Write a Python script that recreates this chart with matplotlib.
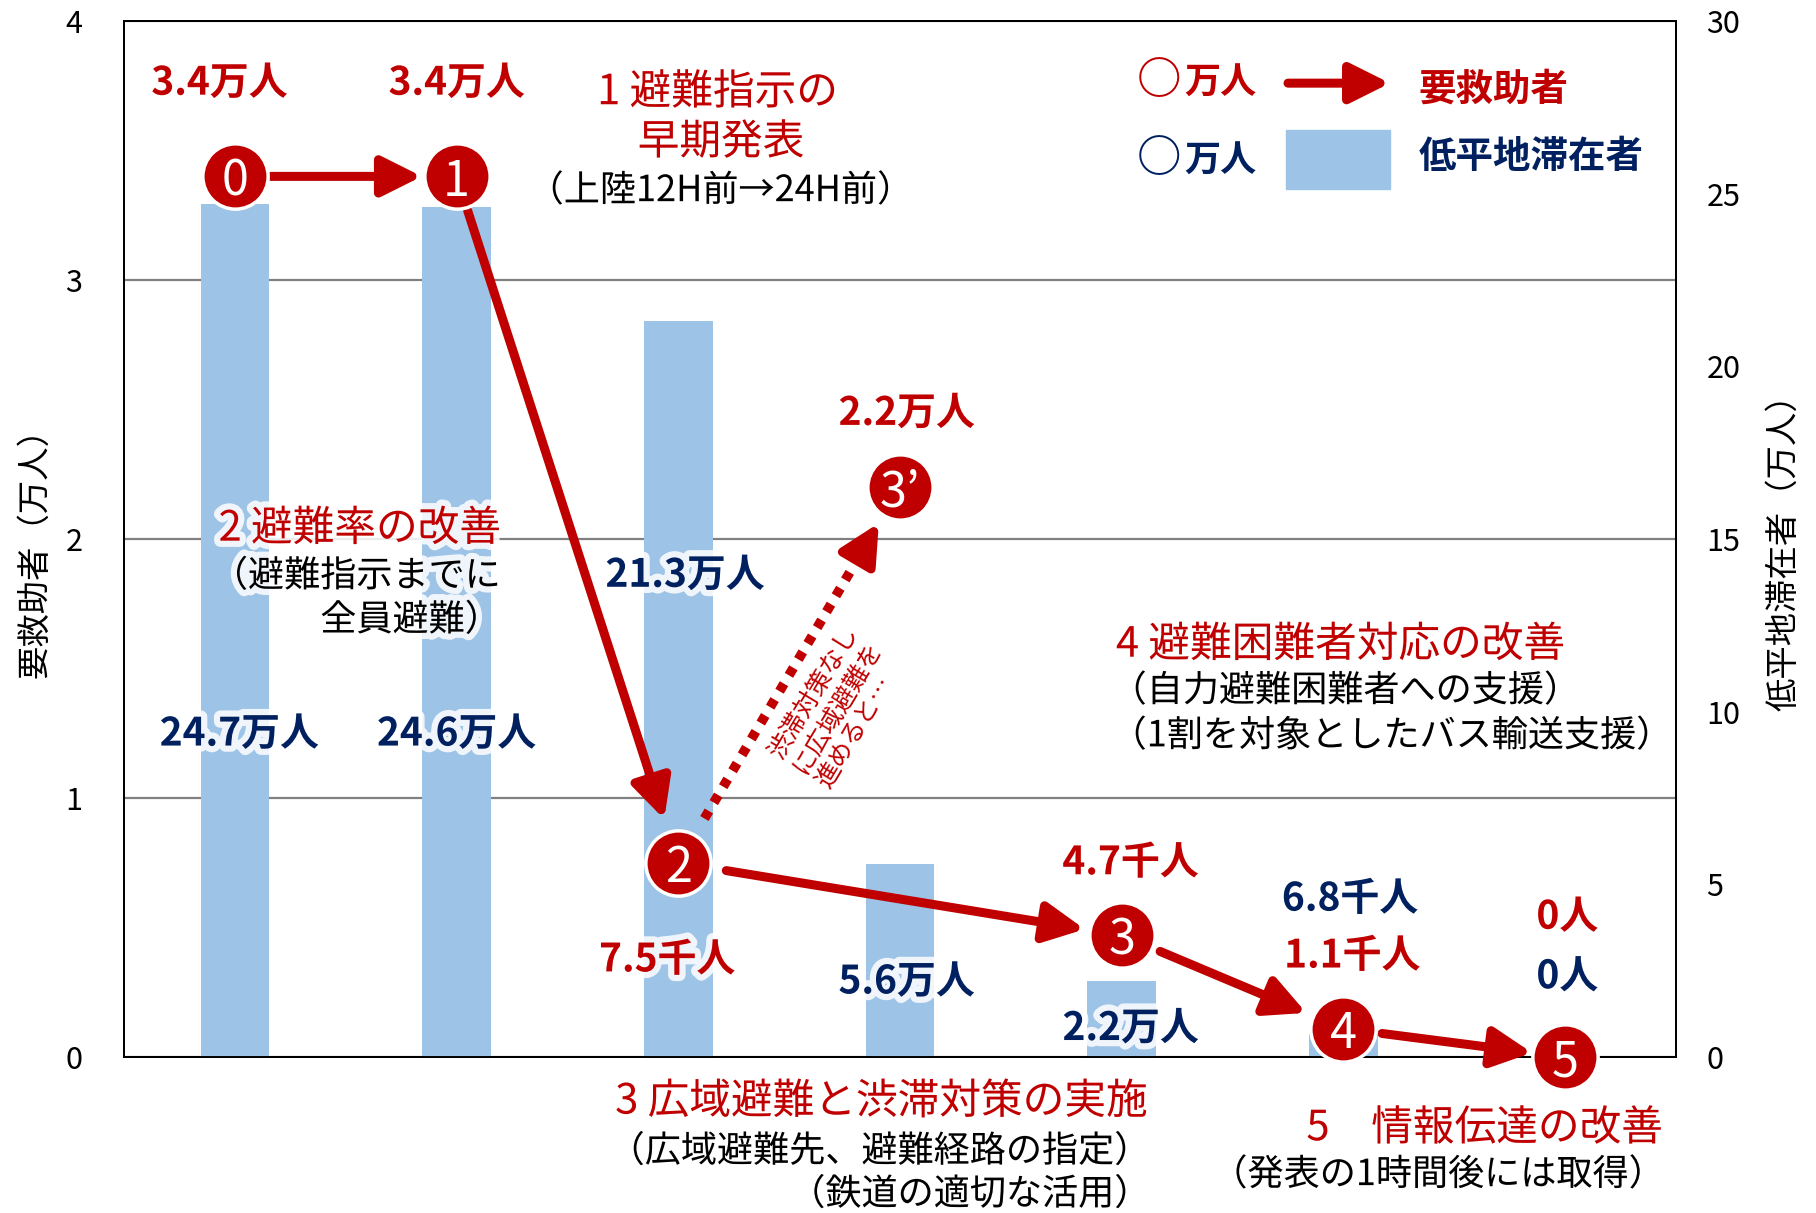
import matplotlib
matplotlib.use("Agg")
import matplotlib.pyplot as plt
import matplotlib.patheffects as pe
from matplotlib.patches import Rectangle
import numpy as np

plt.rcParams['font.family'] = ['Noto Sans CJK JP', 'DejaVu Sans']

RED = '#C00000'
NAVY = '#002060'
BLUE = '#9DC3E6'

# 低平地滞在者 (万人) for each stage slot
slots = [0, 1, 2, 3, 4, 5, 6]
stay = [24.7, 24.6, 21.3, 5.6, 2.2, 0.68, 0]

# 要救助者 (万人) along the improvement steps
step_names = ['0', '1', '2', '3', '4', '5']
step_slot = [0, 1, 2, 4, 5, 6]
rescue = [3.4, 3.4, 0.75, 0.47, 0.11, 0]

# wide-area evacuation without congestion measures
alt_name = '3’'
alt_slot = 3
alt_rescue = 2.2


def fmt(v):
    # 万人 above 1, 千人 below, plain 0人
    if v >= 1:
        return f'{v:.1f}万人'
    if v > 0:
        return f'{v * 10:.1f}千人'
    return '0人'


# label anchors (slot, left-axis units)
rescue_lbl_pos = [(-0.07, 3.76), (1.0, 3.76), (1.95, 0.375),
                  (4.04, 0.75), (5.04, 0.39), (6.01, 0.54)]
alt_lbl_pos = (3.03, 2.485)
stay_lbl_pos = [(0.02, 1.247), (1.0, 1.247), (2.03, 1.86), (3.03, 0.29),
                (4.04, 0.11), (5.03, 0.61), (6.01, 0.31)]

glow = [pe.withStroke(linewidth=9, foreground='white', alpha=0.85)]

fig = plt.figure(figsize=(18.16, 12.13), dpi=100)
rect = [0.0683, 0.1286, 0.8546, 0.8541]

ax = fig.add_axes(rect)
ax.set_xlim(-0.5, 6.5)
ax.set_ylim(0, 4)
ax.set_yticks([0, 1, 2, 3, 4])
ax.set_xticks([])
ax.grid(axis='y', color='#808080', lw=1.6)
ax.tick_params(axis='y', length=0, pad=30, labelsize=22)

ax2 = ax.twinx()
ax2.set_ylim(0, 30)
ax2.set_yticks(range(0, 31, 5))
ax2.tick_params(axis='y', length=0, pad=22, labelsize=22)
ax2.bar(slots, stay, width=0.31, color=BLUE)
for a in (ax, ax2):
    for s in a.spines.values():
        s.set_color('black')
        s.set_linewidth(1.4)

ax3 = ax.twinx()
ax3.set_ylim(0, 4)
ax3.axis('off')

fig.text(0.019, 0.5515, '要救助者（万人）', rotation=90, ha='center', va='center', fontsize=24)
fig.text(0.982, 0.5515, '低平地滞在者（万人）', rotation=90, ha='center', va='center', fontsize=24)

# arrows between the steps
arw = dict(arrowstyle='-|>,head_length=1.2,head_width=0.6', mutation_scale=20,
           color=RED, lw=6.5)
shrinks = [(26, 25), (26, 33), (35, 27), (30, 29), (28, 24)]
for i in range(len(rescue) - 1):
    sa, sb = shrinks[i]
    ax3.annotate('', xy=(step_slot[i + 1], rescue[i + 1]),
                 xytext=(step_slot[i], rescue[i]),
                 arrowprops=dict(arw, shrinkA=sa, shrinkB=sb),
                 annotation_clip=False, zorder=4)

# dotted branch 2 -> 3'
p0 = ax3.transData.transform((step_slot[2], rescue[2]))
p1 = ax3.transData.transform((alt_slot, alt_rescue))
u = (p1 - p0) / np.hypot(*(p1 - p0))
ax3.annotate('', xy=(alt_slot, alt_rescue), xytext=(step_slot[2], rescue[2]),
             arrowprops=dict(arrowstyle='-', color=RED, lw=7, linestyle=(0, (0.9, 1.0)),
                             capstyle='butt', shrinkA=37, shrinkB=54),
             annotation_clip=False, zorder=4)
L = 58
ax3.annotate('', xy=(alt_slot, alt_rescue), xytext=(-u[0] * L, -u[1] * L),
             textcoords='offset points',
             arrowprops=dict(arw, shrinkA=0, shrinkB=30),
             annotation_clip=False, zorder=4)

# step circles
ax3.plot(step_slot, rescue, 'o', ms=47, mfc=RED, mec='white', mew=2.5,
         ls='none', clip_on=False, zorder=6)
ax3.plot([alt_slot], [alt_rescue], 'o', ms=47, mfc=RED, mec='white', mew=2.5,
         ls='none', clip_on=False, zorder=6)
for name, x, y in zip(step_names + [alt_name], step_slot + [alt_slot], rescue + [alt_rescue]):
    ax3.text(x, y, name, color='white', fontsize=35, ha='center', va='center_baseline',
             zorder=7)

# value labels
for v, (x, y) in zip(rescue, rescue_lbl_pos):
    ax3.text(x, y, fmt(v), color=RED, fontsize=28, fontweight='bold',
             ha='center', va='center', path_effects=glow, zorder=5)
ax3.text(*alt_lbl_pos, fmt(alt_rescue), color=RED, fontsize=28, fontweight='bold',
         ha='center', va='center', path_effects=glow, zorder=5)
for v, (x, y) in zip(stay, stay_lbl_pos):
    ax3.text(x, y, fmt(v), color=NAVY, fontsize=28, fontweight='bold',
             ha='center', va='center', path_effects=glow, zorder=5)

# measure descriptions
def note(x, y, s, color='black', size=26, ha='left'):
    ax3.text(x, y, s, color=color, fontsize=size, ha=ha, va='center',
             path_effects=glow, zorder=5)

note(1.634, 3.723, '1 避難指示の', RED, 30)
note(1.817, 3.53, '早期発表', RED, 30)
note(2.19, 3.343, '（上陸12H前→24H前）', ha='center')
note(1.2, 2.038, '2 避難率の改善', RED, 30, ha='right')
note(1.2, 1.855, '（避難指示までに', ha='right')
note(1.2, 1.685, '全員避難）', ha='right')
note(3.974, 1.59, '4 避難困難者対応の改善', RED, 30)
note(3.95, 1.412, '（自力避難困難者への支援）')
note(3.95, 1.238, '（1割を対象としたバス輸送支援）')
note(4.115, -0.174, '3 広域避難と渋滞対策の実施', RED, 30, ha='right')
note(4.13, -0.366, '（広域避難先、避難経路の指定）', ha='right')
note(4.13, -0.532, '（鉄道の適切な活用）', ha='right')
note(6.44, -0.277, '5　情報伝達の改善', RED, 30, ha='right')
note(6.45, -0.456, '（発表の1時間後には取得）', ha='right')

ax3.text(2.72, 1.35, '渋滞対策なし\nに広域避難を\n進めると…', color=RED, fontsize=18,
         rotation=59, rotation_mode='anchor', ha='center', va='center',
         multialignment='left', linespacing=1.1, zorder=5)

# legend block
tr = ax3.transAxes
for y, c in ((0.942, RED), (0.867, NAVY)):
    ax3.text(0.667, y, '○', color=c, fontsize=32, fontweight='bold',
             ha='center', va='center', transform=tr)
    ax3.text(0.683, y - 0.002, '万人', color=c, fontsize=26, fontweight='bold',
             ha='left', va='center', transform=tr)
ax3.annotate('', xy=(0.8157, 0.940), xytext=(0.75, 0.940), xycoords=tr, textcoords=tr,
             arrowprops=dict(arw, shrinkA=0, shrinkB=0))
ax3.text(0.834, 0.934, '要救助者', color=RED, fontsize=27, fontweight='bold',
         ha='left', va='center', transform=tr)
ax3.add_patch(Rectangle((0.7485, 0.838), 0.0672, 0.057, transform=tr,
                        color=BLUE, clip_on=False))
ax3.text(0.834, 0.869, '低平地滞在者', color=NAVY, fontsize=27, fontweight='bold',
         ha='left', va='center', transform=tr)

fig.savefig('out.png', dpi=100)
